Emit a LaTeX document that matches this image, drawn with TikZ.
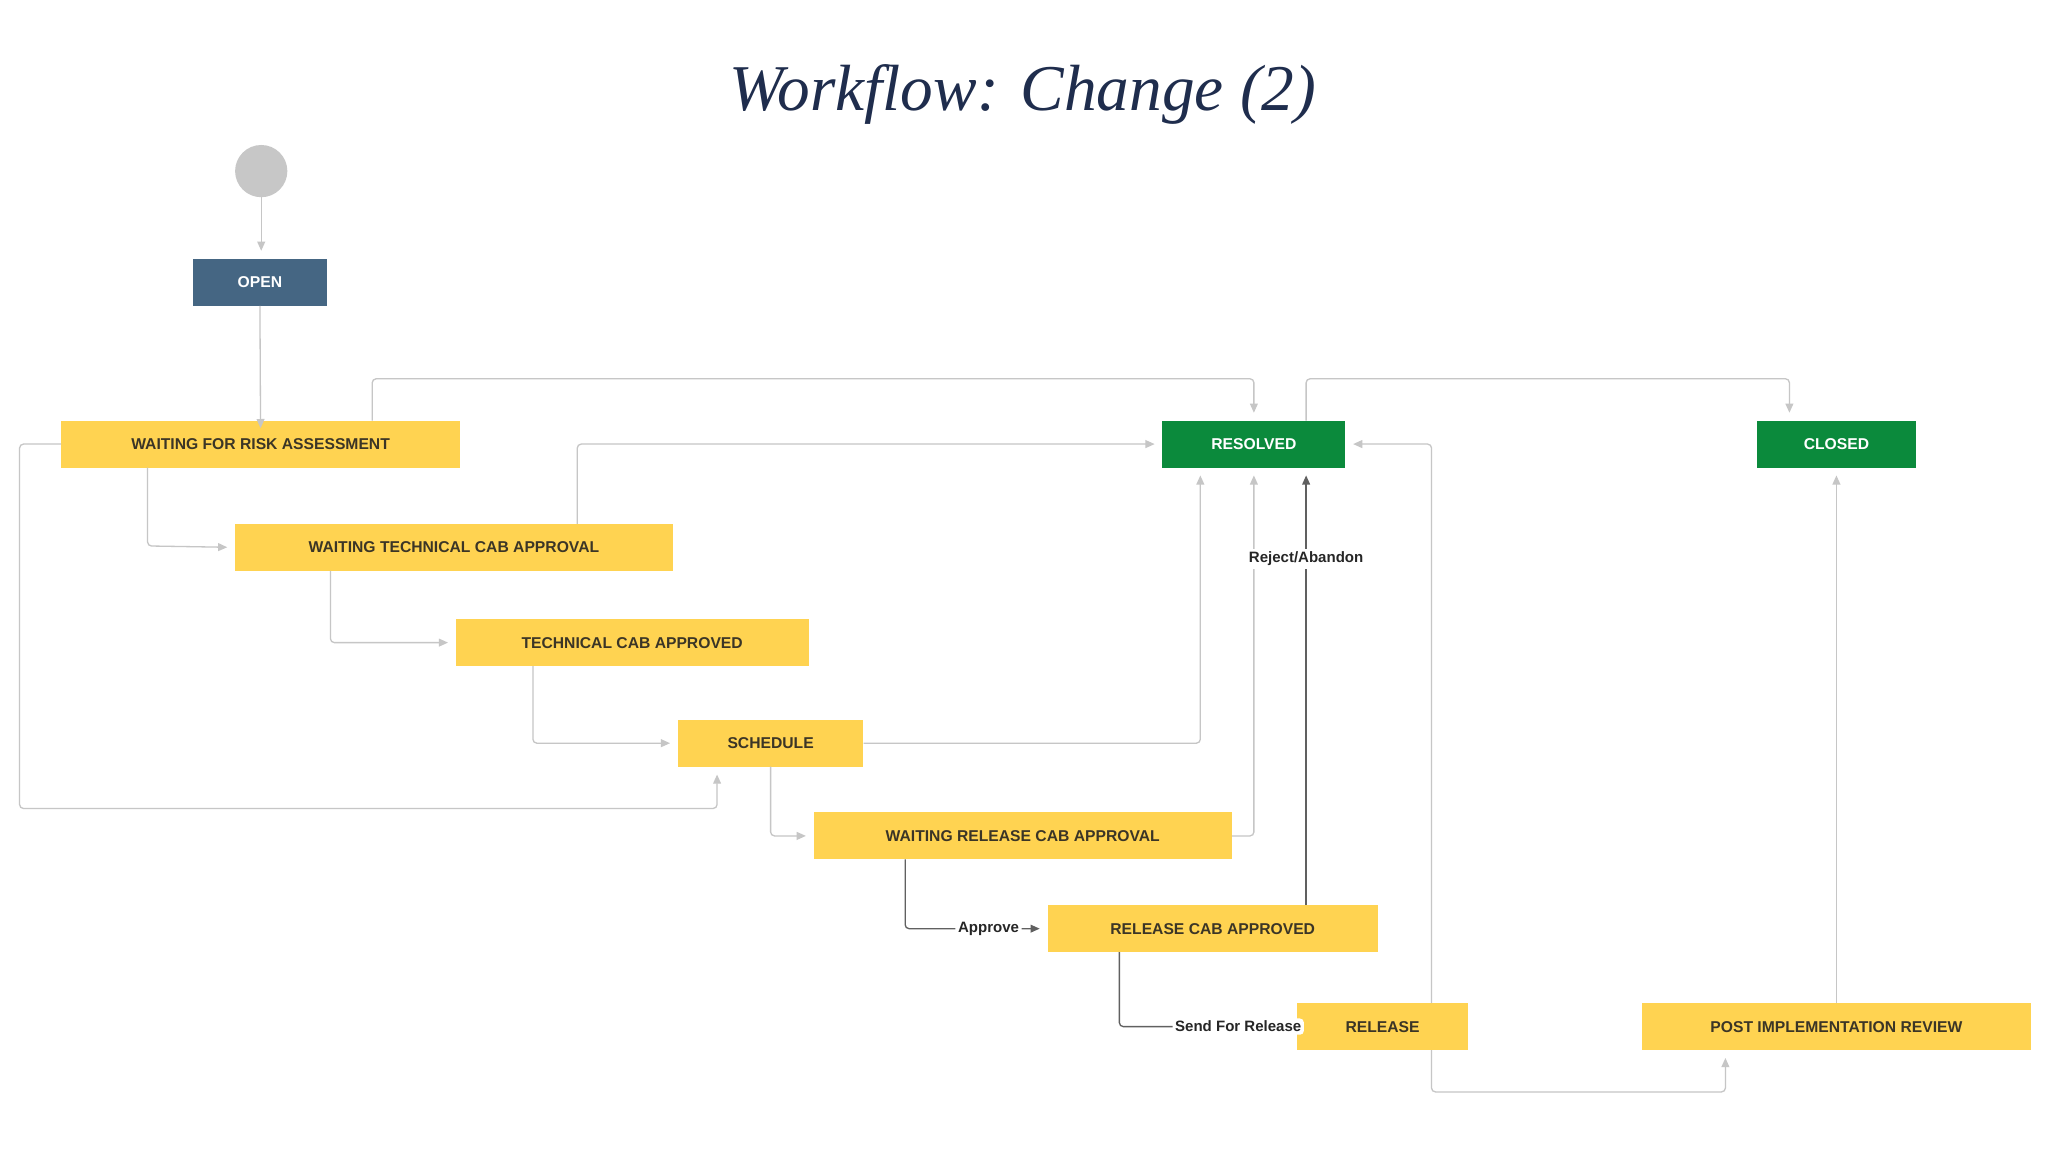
\documentclass[tikz,border=0pt]{standalone}
\usepackage{fontspec}
\setmainfont{Liberation Sans}
\newfontfamily\titlefont{Liberation Serif}
\usetikzlibrary{arrows.meta}
\definecolor{ybox}{HTML}{FFD351}
\definecolor{ytext}{HTML}{3B3526}
\definecolor{openc}{HTML}{456683}
\definecolor{greenc}{HTML}{0B8A3C}
\definecolor{lline}{HTML}{C6C6C6}
\definecolor{dline}{HTML}{606060}
\definecolor{navy}{HTML}{1F2D4D}
\tikzset{
  st/.style={rectangle, minimum height=36pt, inner sep=0pt, font=\fontsize{12}{14}\selectfont\bfseries, text=ytext, fill=ybox},
  opn/.style={st, fill=openc, text=white},
  grn/.style={st, fill=greenc, text=white},
  ln/.style={draw=lline, line width=1pt, -{Triangle[length=7pt,width=6pt,fill=lline]}, rounded corners=3pt},
  dl/.style={draw=dline, line width=1pt, -{Triangle[length=7pt,width=6pt,fill=dline]}, rounded corners=3pt},
  lbl/.style={fill=white, inner sep=2pt, font=\fontsize{11.5}{13}\selectfont\bfseries, text=black!85},
}
\begin{document}
\begin{tikzpicture}[x=1pt,y=-1pt]
\useasboundingbox (0,0) rectangle (1568,882);
\fill[white] (0,0) rectangle (1568,882);
\node[text=navy, font=\titlefont\itshape\fontsize{50}{56}\selectfont] (title) at (783,72) {Workflow: Change (2)};
\node[circle, fill=black!22, minimum size=40pt, inner sep=0pt] (start) at (200,131) {};
\node[opn, minimum width=102pt] (open) at (199,216) {OPEN};
\node[st, minimum width=305pt] (wfra) at (199.5,340) {WAITING FOR RISK ASSESSMENT};
\node[st, minimum width=335pt] (wtca) at (347.5,419) {WAITING TECHNICAL CAB APPROVAL};
\node[st, minimum width=270pt] (tca) at (484,492) {TECHNICAL CAB APPROVED};
\node[st, minimum width=142pt] (sch) at (590,569) {SCHEDULE};
\node[st, minimum width=320pt] (wrca) at (783,640) {WAITING RELEASE CAB APPROVAL};
\node[st, minimum width=253pt] (rca) at (928.5,711) {RELEASE CAB APPROVED};
\node[st, minimum width=131pt] (rel) at (1058.5,786) {RELEASE};
\node[st, minimum width=298pt] (pir) at (1406,786) {POST IMPLEMENTATION REVIEW};
\node[grn, minimum width=140pt] (res) at (960,340) {RESOLVED};
\node[grn, minimum width=122pt] (clo) at (1406,340) {CLOSED};
% connectors
\draw[ln] (start) -- (200,192);
\draw[ln] (open.south) -- ([yshift=-6pt]wfra.north);
\draw[ln] (285,322) -- (285,290) -- (960,290) -- (960,316);
\draw[ln] (1000,322) -- (1000,290) -- (1370,290) -- (1370,316);
\draw[ln] (wfra.west) -- (15,340) -- (15,619) -- (549,619) -- (549,593);
\draw[ln] (113,358) -- (113,418) -- (174,419);
\draw[ln] (442,401) -- (442,340) -- (884,340);
\draw[ln] (253,437) -- (253,492) -- (343,492);
\draw[ln] (408,510) -- (408,569) -- (513,569);
\draw[ln] (sch.east) -- (919,569) -- (919,364);
\draw[ln] (590,587) -- (590,640) -- (617,640);
\draw[ln] (wrca.east) -- (960,640) -- (960,364);
\draw[ln] (1096,768) -- (1096,340) -- (1036,340);
\draw[ln] (1096,804) -- (1096,836) -- (1321,836) -- (1321,810);
\draw[ln] (pir.north) -- (1406,364);
\draw[dl] (693,658) -- (693,711) -- (796,711) node[lbl, pos=0.62] {Approve};
\draw[dl] (857,729) -- (857,786) -- (987,786) node[lbl, pos=0.7] {Send For Release};
\draw[dl] (1000,693) -- (1000,364);
\node[lbl] (rej) at (1000,428) {Reject/Abandon};
\end{tikzpicture}
\end{document}
